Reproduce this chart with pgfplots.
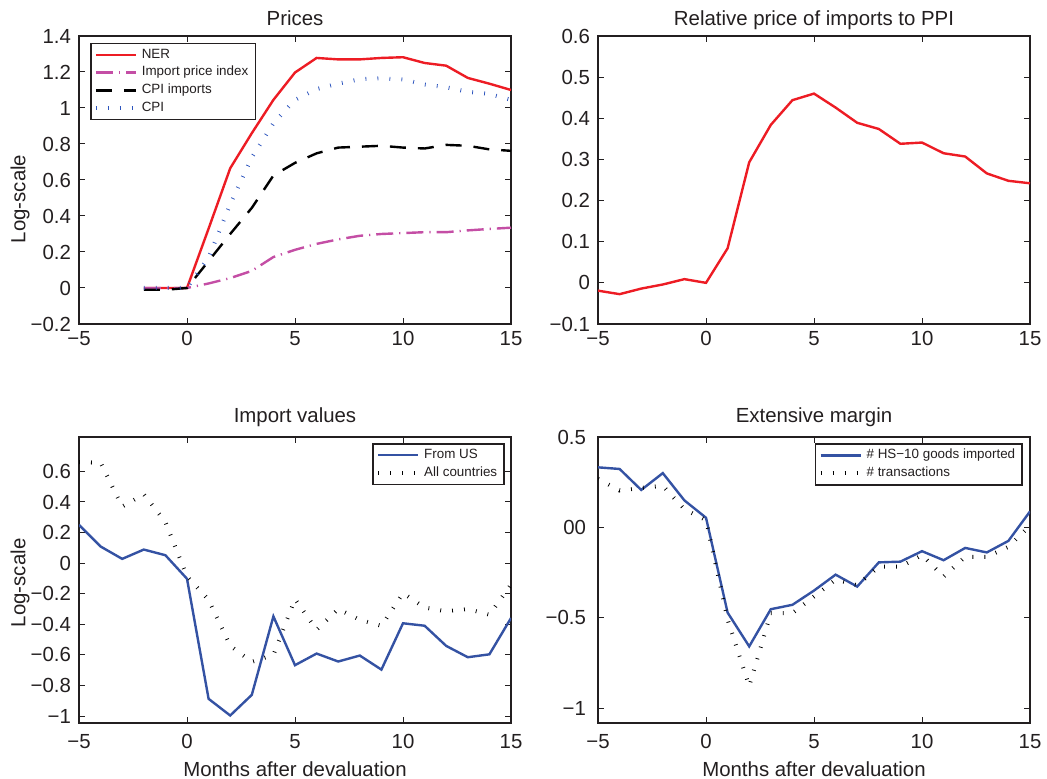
\documentclass[border=0pt]{standalone}
\usepackage{fontspec}
\setmainfont{Liberation Sans}
\usepackage{pgfplots}
\pgfplotsset{compat=1.18}
\definecolor{ner}{RGB}{237,28,36}
\definecolor{ipi}{RGB}{196,78,165}
\definecolor{cpib}{RGB}{45,85,190}
\definecolor{usb}{RGB}{52,82,163}
\definecolor{axc}{RGB}{35,31,32}
\pgfplotsset{
  every axis title shift=0pt,
  myax/.style={
    scale only axis, width=216pt,
    xmin=-5, xmax=15,
    xtick={-5,0,5,10,15}, xticklabels={−5,0,5,10,15},
    tick align=inside, major tick length=2.8pt,
    axis line style={line width=0.65pt, axc},
    every tick/.style={line width=0.5pt, axc},
    tick label style={font=\fontsize{10.2}{12}\selectfont, text=axc},
    yticklabel style={xshift=-0.5pt},
    label style={font=\fontsize{10.2}{12}\selectfont, text=axc},
    title style={font=\fontsize{10.2}{12}\selectfont, text=axc, at={(axis description cs:0.5,1)}, anchor=base},
    legend style={font=\fontsize{6.7}{8}\selectfont, draw=axc, line width=0.8pt, text=axc,
      inner xsep=1.5pt, inner ysep=0.6pt, row sep=-1.4pt, cells={anchor=west}},
    legend image code/.code={\draw[#1] (0pt,0pt) -- (20pt,0pt);},
  },
  dotst/.style={line width=2pt, dash pattern=on 0.4pt off 5.6pt},
}
\begin{document}
\begin{tikzpicture}
\path[use as bounding box] (0,0) rectangle (523.5pt,389.5pt);
% ---------------- Prices
\begin{axis}[myax, at={(39.5pt,227.5pt)}, anchor=south west, height=144pt,
  ymin=-0.2, ymax=1.4,
  ytick={-0.2,0,0.2,0.4,0.6,0.8,1,1.2,1.4},
  yticklabels={−0.2,0,0.2,0.4,0.6,0.8,1,1.2,1.4},
  title={Prices}, title style={yshift=5pt},
  ylabel={Log-scale}, ylabel style={at={(axis description cs:-0.1366,0.434)}, anchor=center},
  legend style={at={(axis description cs:0,1)}, anchor=north west, xshift=5.5pt, yshift=-3.4pt},
]
\addplot[ner, line width=1.2pt] coordinates {(-2,0)(-1,0)(0,0)(1,0.33)(2,0.665)(3,0.86)(4,1.045)(5,1.197)(6,1.278)(7,1.27)(8,1.27)(9,1.278)(10,1.282)(11,1.25)(12,1.235)(13,1.167)(14,1.135)(15,1.10)};
\addlegendentry{NER}
\addplot[ipi, line width=1.2pt, dash pattern=on 8.5pt off 3pt on 0.6pt off 3pt] coordinates {(-2,0)(-1,0)(0,0)(1,0.025)(2,0.055)(3,0.095)(4,0.172)(5,0.212)(6,0.245)(7,0.27)(8,0.29)(9,0.30)(10,0.305)(11,0.31)(12,0.31)(13,0.32)(14,0.328)(15,0.335)};
\addlegendentry{Import price index}
\addplot[black, line width=1.2pt, dash pattern=on 8pt off 6pt] coordinates {(-2,-0.01)(-1,-0.01)(0,0)(1,0.15)(2,0.30)(3,0.445)(4,0.625)(5,0.695)(6,0.748)(7,0.78)(8,0.785)(9,0.79)(10,0.78)(11,0.775)(12,0.795)(13,0.79)(14,0.77)(15,0.762)};
\addlegendentry{CPI imports}
\addplot[cpib, dotst] coordinates {(-2,0)(-1,0)(0,0)(1,0.17)(2,0.465)(3,0.725)(4,0.915)(5,1.045)(6,1.105)(7,1.135)(8,1.16)(9,1.165)(10,1.158)(11,1.13)(12,1.115)(13,1.09)(14,1.078)(15,1.045)};
\addlegendentry{CPI}
\end{axis}
% ---------------- Relative price
\begin{axis}[myax, at={(299pt,227.5pt)}, anchor=south west, height=144pt,
  ymin=-0.1, ymax=0.6,
  ytick={-0.1,0,0.1,0.2,0.3,0.4,0.5,0.6},
  yticklabels={−0.1,0,0.1,0.2,0.3,0.4,0.5,0.6},
  title={Relative price of imports to PPI}, title style={yshift=5pt},
]
\addplot[ner, line width=1.2pt] coordinates {(-5,-0.019)(-4,-0.0275)(-3,-0.014)(-2,-0.004)(-1,0.009)(0,0)(1,0.084)(2,0.293)(3,0.384)(4,0.444)(5,0.46)(6,0.426)(7,0.389)(8,0.374)(9,0.338)(10,0.341)(11,0.315)(12,0.307)(13,0.266)(14,0.248)(15,0.242)};
\end{axis}
% ---------------- Import values
\begin{axis}[myax, at={(39.5pt,28pt)}, anchor=south west, height=143pt,
  ymin=-1.045, ymax=0.825,
  ytick={-1,-0.8,-0.6,-0.4,-0.2,0,0.2,0.4,0.6},
  yticklabels={−1,−0.8,−0.6,−0.4,−0.2,0,0.2,0.4,0.6},
  title={Import values}, title style={yshift=7pt},
  xlabel={Months after devaluation}, xlabel style={at={(axis description cs:0.5,0)}, anchor=base, yshift=-27pt},
  ylabel={Log-scale}, ylabel style={at={(axis description cs:-0.1366,0.49)}, anchor=center},
  xticklabel style={yshift=-2pt},
  legend style={at={(axis description cs:1,1)}, anchor=north east, xshift=-3pt, yshift=-3pt},
]
\addplot[usb, line width=1.2pt] coordinates {(-5,0.25)(-4,0.109)(-3,0.028)(-2,0.089)(-1,0.052)(0,-0.102)(1,-0.887)(2,-0.996)(3,-0.861)(4,-0.348)(5,-0.667)(6,-0.591)(7,-0.643)(8,-0.604)(9,-0.696)(10,-0.393)(11,-0.409)(12,-0.541)(13,-0.615)(14,-0.596)(15,-0.359)};
\addlegendentry{From US}
\addplot[black, dotst] coordinates {(-5,0.66)(-4,0.657)(-3,0.37)(-2,0.45)(-1,0.27)(0,-0.087)(1,-0.24)(2,-0.54)(3,-0.645)(4,-0.6)(5,-0.235)(6,-0.435)(7,-0.30)(8,-0.37)(9,-0.41)(10,-0.196)(11,-0.29)(12,-0.315)(13,-0.30)(14,-0.337)(15,-0.14)};
\addlegendentry{All countries}
\end{axis}
% ---------------- Extensive margin
\begin{axis}[myax, at={(299pt,28pt)}, anchor=south west, height=143pt,
  ymin=-1.083, ymax=0.5,
  ytick={-1,-0.5,0,0.5},
  yticklabels={−1,−0.5,00,0.5},
  title={Extensive margin}, title style={yshift=7pt},
  xlabel={Months after devaluation}, xlabel style={at={(axis description cs:0.5,0)}, anchor=base, yshift=-27pt},
  xticklabel style={yshift=-2pt},
  yticklabel style={xshift=-2pt},
  legend style={at={(axis description cs:1,1)}, anchor=north east, xshift=-3.5pt, yshift=-3pt},
]
\addplot[usb, line width=1.2pt] coordinates {(-5,0.332)(-4,0.323)(-3,0.207)(-2,0.30)(-1,0.149)(0,0.053)(1,-0.472)(2,-0.659)(3,-0.453)(4,-0.429)(5,-0.35)(6,-0.262)(7,-0.328)(8,-0.194)(9,-0.19)(10,-0.132)(11,-0.182)(12,-0.114)(13,-0.139)(14,-0.075)(15,0.088)};
\addlegendentry{\# HS−10 goods imported}
\addplot[black, dotst] coordinates {(-5,0.268)(-4,0.204)(-3,0.218)(-2,0.23)(-1,0.10)(0,0.04)(1,-0.51)(2,-0.879)(3,-0.475)(4,-0.475)(5,-0.383)(6,-0.29)(7,-0.32)(8,-0.218)(9,-0.218)(10,-0.154)(11,-0.273)(12,-0.163)(13,-0.163)(14,-0.108)(15,0.01)};
\addlegendentry{\# transactions}
\end{axis}
\end{tikzpicture}
\end{document}
